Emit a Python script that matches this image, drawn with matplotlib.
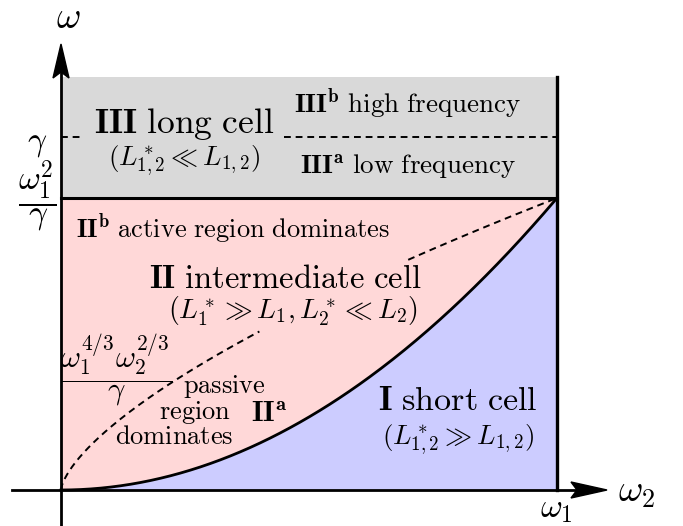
import numpy as np
import matplotlib
matplotlib.use("Agg")
import matplotlib.pyplot as plt
from matplotlib.patches import Polygon

plt.rcParams['mathtext.fontset'] = 'cm'
plt.rcParams['font.family'] = ['DejaVu Serif']

# --- chart values (normalized: omega1 = 1, omega1^2/gamma = 1) ---
omega1 = 1.0
level_low = 1.0        # omega1^2 / gamma
level_gamma = 1.21     # gamma
level_top = 1.414      # top of region III
boundary_exp = 2.0     # I/II boundary: omega ~ omega2^2
dashed_exp = 2.0 / 3.0 # omega1^{4/3} omega2^{2/3} / gamma
dashed_segments = [(0.0, 0.40), (0.70, 1.0)]

c_gray = '#d9d9d9'
c_pink = '#ffd8d8'
c_blue = '#ccccff'

W, H = 683, 526
fig = plt.figure(figsize=(W / 100, H / 100), dpi=100)
ax = fig.add_axes([0, 0, 1, 1])
ox, oy, sx, sy = 61, 490, 496, 292
ax.set_xlim((0 - ox) / sx, (W - ox) / sx)
ax.set_ylim((oy - H) / sy, (oy - 0) / sy)
ax.axis('off')

def px(x):
    return (x - ox) / sx

def py(y):
    return (oy - y) / sy

xs = np.linspace(0, omega1, 300)
curve = xs ** boundary_exp
# regions
ax.fill_between([0, omega1], level_low, level_top, color=c_gray, lw=0, zorder=1)
ax.fill_between(xs, curve, level_low, color=c_pink, lw=0, zorder=1)
ax.fill_between(xs, 0, curve, color=c_blue, lw=0, zorder=1)

# boundaries
ax.plot(xs, curve, color='black', lw=2.0, zorder=3)
ax.plot([0, omega1], [level_low, level_low], color='black', lw=2.2, zorder=3)
ax.plot([omega1, omega1], [0, level_top], color='black', lw=2.4, zorder=3)

dash = dict(color='black', lw=1.4, dashes=(3.5, 2.5), zorder=3)
for a, b in dashed_segments:
    xx = np.linspace(a, b, 200)
    ax.plot(xx, xx ** dashed_exp, **dash)
ax.plot([0, px(83)], [level_gamma, level_gamma], **dash)
ax.plot([px(284), omega1], [level_gamma, level_gamma], **dash)

# axes with arrows
ax.plot([px(12), px(575)], [0, 0], color='black', lw=2.0, zorder=4)
ax.plot([0, 0], [py(526), py(70)], color='black', lw=2.0, zorder=4)
ax.add_patch(Polygon([[px(607), 0], [px(571), py(482)], [px(577), 0], [px(571), py(498)]],
                     closed=True, color='black', zorder=5))
ax.add_patch(Polygon([[0, py(44)], [px(53), py(78)], [0, py(72)], [px(69), py(78)]],
                     closed=True, color='black', zorder=5))

# axis labels
ax.text(px(68), py(18), r'$\omega$', fontsize=27, ha='center', va='center')
ax.text(px(637), py(492), r'$\omega_2$', fontsize=27, ha='center', va='center')
ax.text(px(556), py(509), r'$\omega_1$', fontsize=24, ha='center', va='center')
ax.text(px(37), py(143), r'$\gamma$', fontsize=24, ha='center', va='center')
ax.text(px(37), py(197), r'$\dfrac{\omega_1^2}{\gamma}$', fontsize=24, ha='center', va='center')

# region labels
ax.text(px(184), py(124), r'$\mathbf{III}\ \mathrm{long\ cell}$', fontsize=25.5, ha='center', va='center', zorder=6)
ax.text(px(184), py(161), r'$(L^*_{1,2} \ll L_{1,2})$', fontsize=19.5, ha='center', va='center', zorder=6)
ax.text(px(408), py(104), r'$\mathbf{III}^{\mathbf{b}}\ \mathrm{high\ frequency}$', fontsize=19.5, ha='center', va='center')
ax.text(px(408), py(167), r'$\mathbf{III}^{\mathbf{a}}\ \mathrm{low\ frequency}$', fontsize=19.5, ha='center', va='center')
ax.text(px(233), py(229), r'$\mathbf{II}^{\mathbf{b}}\ \mathrm{active\ region\ dominates}$', fontsize=19, ha='center', va='center')
ax.text(px(285), py(279), r'$\mathbf{II}\ \mathrm{intermediate\ cell}$', fontsize=23.5, ha='center', va='center')
ax.text(px(293), py(311), r'$(L^*_1 \gg L_1, L^*_2 \ll L_2)$', fontsize=20, ha='center', va='center')
ax.text(px(116), py(370), r'$\dfrac{\omega_1^{4/3}\omega_2^{2/3}}{\gamma}$', fontsize=22, ha='center', va='center')
ax.text(px(224), py(386), r'$\mathrm{passive}$', fontsize=19, ha='center', va='center')
ax.text(px(195), py(412), r'$\mathrm{region}$', fontsize=19, ha='center', va='center')
ax.text(px(174), py(437), r'$\mathrm{dominates}$', fontsize=19, ha='center', va='center')
ax.text(px(269), py(414), r'$\mathbf{II}^{\mathbf{a}}$', fontsize=21, ha='center', va='center')
ax.text(px(458), py(401), r'$\mathbf{I}\ \mathrm{short\ cell}$', fontsize=24.5, ha='center', va='center')
ax.text(px(458), py(440), r'$(L^*_{1,2} \gg L_{1,2})$', fontsize=19.5, ha='center', va='center')

fig.savefig('out.png', dpi=100)
